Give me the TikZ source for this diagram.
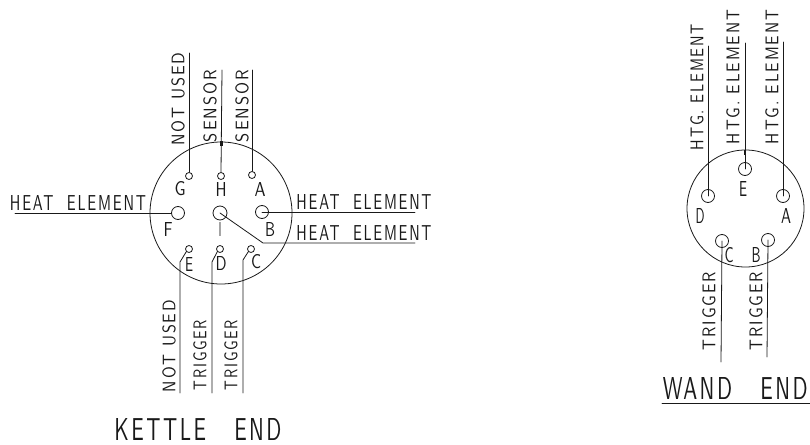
\documentclass[tikz,border=0pt]{standalone}
\usepackage{fontspec}
\usepackage{graphicx}
\setsansfont{Latin Modern Sans}[LetterSpace=12]
\newcommand{\cad}[3]{\resizebox{#1pt}{#2pt}{\sffamily #3}}
\newcommand{\cadone}[3]{\resizebox{#1pt}{#2pt}{\addfontfeatures{LetterSpace=0}\sffamily #3}}
\tikzset{
  wire/.style={line width=0.8pt,draw=black!90,line cap=round,line join=round},
  pinbig/.style={circle,draw=black!90,line width=0.8pt,minimum size=13pt,inner sep=0pt,fill=white},
  pinsmall/.style={circle,draw=black!90,line width=0.8pt,minimum size=7pt,inner sep=0pt,fill=white},
  shell/.style={circle,draw=black!90,line width=0.8pt,inner sep=0pt},
  lab/.style={inner sep=0pt,text=black!90},
  vlab/.style={inner sep=0pt,text=black!90,rotate=90}
}
\begin{document}
\begin{tikzpicture}[x=1pt,y=-1pt]
\useasboundingbox (0,0) rectangle (810,444);
% kettle end
\node[shell,minimum size=142pt] (kshell) at (221,213) {};
\node[pinsmall] (pG) at (189,176) {};
\node[pinsmall] (pH) at (221,176) {};
\node[pinsmall] (pA) at (252,175) {};
\node[pinbig] (pF) at (178,213) {};
\node[pinbig,minimum size=14pt] (pI) at (220,213) {};
\node[pinbig] (pB) at (262,212) {};
\node[pinsmall] (pE) at (189,249) {};
\node[pinsmall] (pD) at (220,249) {};
\node[pinsmall] (pC) at (251,249) {};
\node[lab] (lG) at (180,189) {\cadone{11}{14}{G}};
\node[lab] (lH) at (221,189) {\cadone{11}{14}{H}};
\node[lab] (lA) at (260,189) {\cadone{11}{14}{A}};
\node[lab] (lF) at (168,229) {\cadone{9}{14}{F}};
\node[lab] (lI) at (220,229) {\cadone{2.5}{14}{I}};
\node[lab] (lB) at (270,229) {\cadone{10}{14}{B}};
\node[lab] (lE) at (189,264) {\cadone{8}{14}{E}};
\node[lab] (lD) at (221,263) {\cadone{11}{14}{D}};
\node[lab] (lC) at (256,262) {\cadone{10}{14}{C}};
\coordinate (tG) at (189,53);
\coordinate (tH) at (222,70);
\coordinate (tA) at (252,70);
\coordinate (eF) at (15,213);
\coordinate (eB) at (415,212);
\coordinate (kI) at (263,243);
\coordinate (eI) at (415,243);
\coordinate (kE) at (180,262);
\coordinate (bE) at (180,393);
\coordinate (kD) at (212,262);
\coordinate (bD) at (212,393);
\coordinate (kC) at (243,260);
\coordinate (bC) at (243,393);
\coordinate (nH) at (221,146);
\coordinate (nH2) at (221,141);
\draw[wire] (tG) -- (pG.north);
\draw[wire] (tH) -- (pH.north);
\draw[wire] (tA) -- (pA.north);
\draw[line width=3pt,draw=black!90] (nH2) -- (nH);
\draw[wire] (eF) -- (pF.west);
\draw[wire] (eB) -- (pB.center);
\draw[wire] (pI.center) -- (kI) -- (eI);
\draw[wire] (pE.south west) -- (kE) -- (bE);
\draw[wire] (pD.south west) -- (kD) -- (bD);
\draw[wire] (pC.south west) -- (kC) -- (bC);
\node[vlab] (nNU1) at (178,99) {\cad{93}{13}{NOT USED}};
\node[vlab] (nS1) at (210,106) {\cad{72}{13}{SENSOR}};
\node[vlab] (nS2) at (242,106) {\cad{72}{13}{SENSOR}};
\node[lab] (nHE1) at (78,203) {\cad{136}{15}{HEAT\ \ ELEMENT}};
\node[lab] (nHE2) at (364,202) {\cad{135}{15}{HEAT\ \ ELEMENT}};
\node[lab] (nHE3) at (364,233) {\cad{135}{15}{HEAT\ \ ELEMENT}};
\node[vlab] (nNU2) at (169,346) {\cad{92}{13}{NOT USED}};
\node[vlab] (nT1) at (200,355) {\cad{70}{13}{TRIGGER}};
\node[vlab] (nT2) at (231,355) {\cad{70}{13}{TRIGGER}};
\node[lab] (nK) at (198,429) {\cad{167}{22}{KETTLE\ \ \ END}};
% wand end
\node[shell,minimum size=117pt] (wshell) at (745.5,208.5) {};
\node[pinbig] (qE) at (745,169) {};
\node[pinbig] (qD) at (708,196) {};
\node[pinbig] (qA) at (783,196) {};
\node[pinbig] (qC) at (722,241) {};
\node[pinbig] (qB) at (768,240) {};
\node[lab] (mE) at (743,189) {\cadone{8}{15}{E}};
\node[lab] (mD) at (700,216) {\cadone{9}{15}{D}};
\node[lab] (mA) at (786,216) {\cadone{10}{15}{A}};
\node[lab] (mC) at (729,255) {\cadone{9}{15}{C}};
\node[lab] (mB) at (756,255) {\cadone{9}{15}{B}};
\coordinate (uD) at (708,46);
\coordinate (uE) at (745,43);
\coordinate (uA) at (783,42);
\coordinate (dC) at (721,362);
\coordinate (dB) at (767,357);
\coordinate (nE) at (745,150);
\coordinate (nE2) at (745,155);
\draw[wire] (uD) -- (qD.center);
\draw[wire] (uE) -- (qE.center);
\draw[line width=2.5pt,draw=black!90] (nE) -- (nE2);
\draw[wire] (uA) -- (qA.center);
\draw[wire] (dC) -- (qC.center);
\draw[wire] (dB) -- (qB.center);
\node[vlab] (tD) at (697,87) {\cad{126}{13}{HTG.\ ELEMENT}};
\node[vlab] (tE) at (733,77) {\cad{134}{13}{HTG.\ ELEMENT}};
\node[vlab] (tA) at (772,77) {\cad{134}{13}{HTG.\ ELEMENT}};
\node[vlab] (tC) at (709,311) {\cad{78}{13}{TRIGGER}};
\node[vlab] (tB) at (756,311) {\cad{78}{13}{TRIGGER}};
\node[lab,anchor=east] (tW) at (808,388) {\cad{145}{22}{WAND\ \ \ END}};
\coordinate (wL) at (662,403);
\coordinate (wR) at (810,403);
\draw[wire] (wL) -- (wR);
\end{tikzpicture}
\end{document}
